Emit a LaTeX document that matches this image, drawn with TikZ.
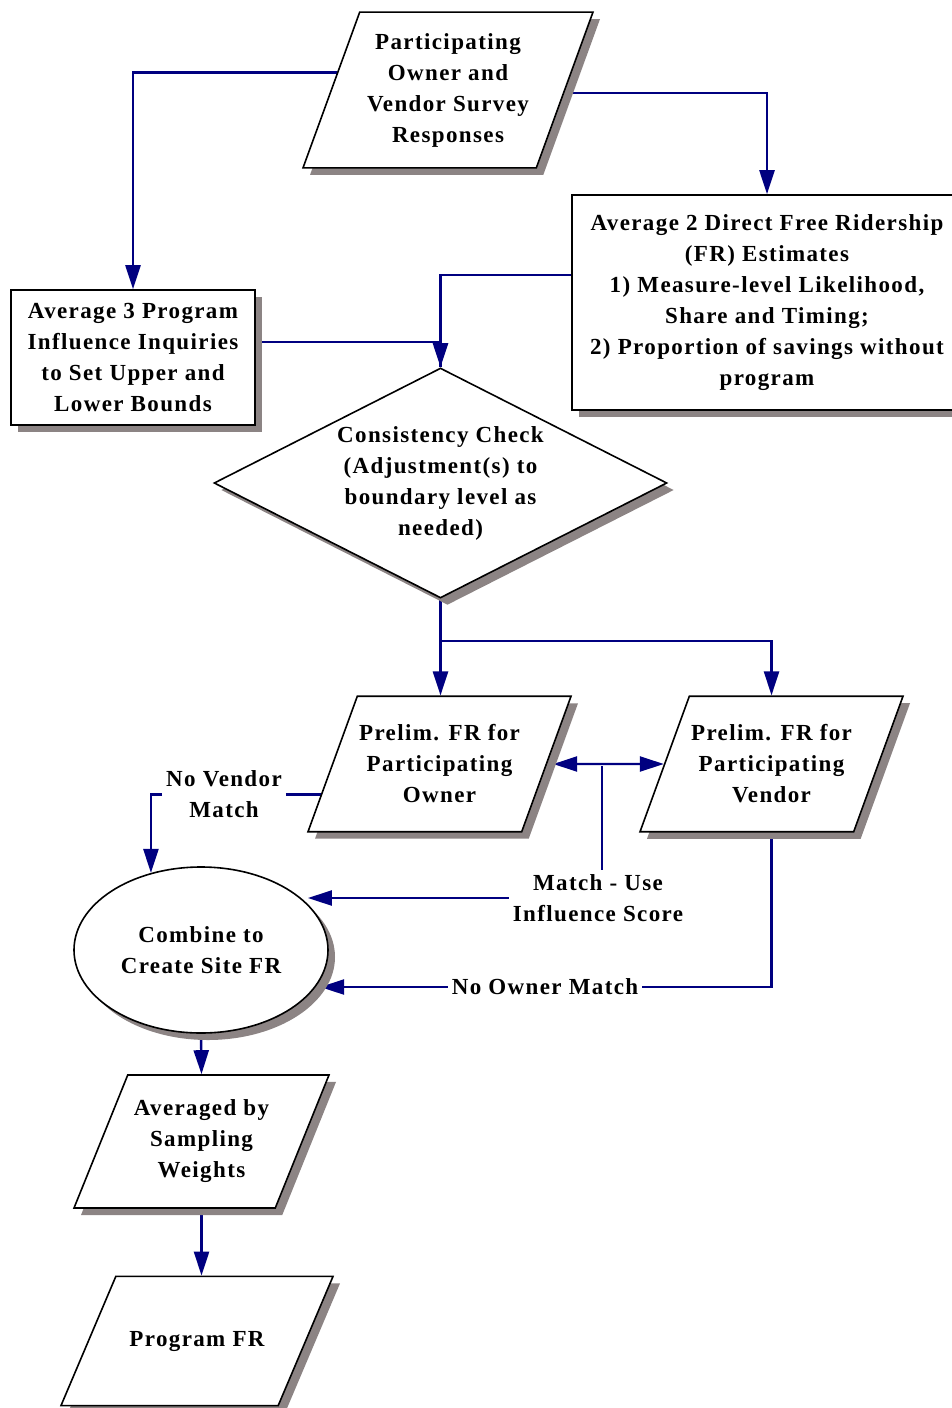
\documentclass[tikz,border=0pt]{standalone}
\usepackage{fontspec}
\setmainfont{Liberation Serif}[LetterSpace=6]
\usetikzlibrary{shapes.geometric,arrows.meta,shadows,calc,backgrounds}
\definecolor{flowline}{RGB}{0,0,128}
\definecolor{shade}{RGB}{140,132,132}
\tikzset{
  box/.style={draw, line width=1.6pt, fill=white, align=center, inner sep=0pt,
    font=\bfseries\fontsize{23}{31}\selectfont,
    drop shadow={shadow xshift=7pt, shadow yshift=-7pt, fill=shade, opacity=1}},
  databox/.style={box, trapezium, trapezium stretches body=true,
    trapezium left angle=70, trapezium right angle=110},
  lbl/.style={align=center, inner sep=4pt, font=\bfseries\fontsize{23}{31}\selectfont},
  flow/.style={draw=flowline, line width=2.4pt}
}
\begin{document}
\begin{tikzpicture}[x=1pt, y=-1pt, >={Triangle[length=24pt,width=15pt]}]
\useasboundingbox (0,0) rectangle (951,1408);
\node[databox, inner ysep=21pt, minimum width=290] (resp) at (448,90) {Participating\\Owner and\\Vendor Survey\\Responses};
\node[box, rectangle, minimum width=244, minimum height=135] (infl) at (133,357.5) {Average 3 Program\\Influence Inquiries\\to Set Upper and\\Lower Bounds};
\node[box, rectangle, minimum width=390, minimum height=215] (direct) at (767,302.5) {Average 2 Direct Free Ridership\\(FR) Estimates\\1) Measure-level Likelihood,\\Share and Timing;\\2) Proportion of savings without\\program};
\node[box, diamond, aspect=1.97, minimum width=453, minimum height=230] (check) at (440.5,483) {Consistency Check\\(Adjustment(s) to\\boundary level as\\needed)};
\node[databox, inner ysep=28.5pt, minimum width=263] (owner) at (439.5,764) {Prelim. FR for\\Participating\\Owner};
\node[databox, inner ysep=28.5pt, minimum width=263] (vendor) at (771.5,764) {Prelim. FR for\\Participating\\Vendor};
\node[box, ellipse, minimum width=254, minimum height=166] (combine) at (201,950) {Combine to\\Create Site FR};
\node[databox, trapezium left angle=68, trapezium right angle=112, inner ysep=25pt, minimum width=255] (weights) at (201.5,1141.5) {Averaged by\\Sampling\\Weights};
\node[databox, trapezium left angle=67, trapezium right angle=113, inner ysep=54.5pt, minimum width=272] (progfr) at (197,1341) {Program FR};
\node[lbl] (novend) at (224,794.5) {No Vendor\\Match};
\node[lbl] (matchuse) at (598,898) {Match - Use\\Influence Score};
\node[lbl] (noown) at (545,987) {No Owner Match};
\coordinate (fork) at (602,766);
\begin{scope}[on background layer]
\draw[flow, ->] ($(resp.top left corner)!0.39!(resp.bottom left corner)$) -| (infl.north);
\draw[flow, ->] ($(resp.top right corner)!0.52!(resp.bottom right corner)$) -| (direct.north);
\draw[flow, ->] ([yshift=27.5pt]direct.west) -| (check.north);
\draw[flow] ([yshift=15.5pt]infl.east) -| (check.north);
\draw[flow, ->] (check.south) -- (check.south |- owner.north);
\draw[flow, ->] ([yshift=-42pt]check.south) -| (vendor.north);
\draw[flow] (novend.east) -- (novend.east -| owner.west);
\draw[flow, ->] (novend.west) -| (combine.123);
\draw[flow, <->] ([xshift=6pt]owner.east) -- (vendor.west);
\draw[flow] (fork) -- (fork |- matchuse.north);
\draw[flow, ->] (matchuse.west) -- ([xshift=6pt]matchuse.west -| combine.27);
\draw[flow] (vendor.south) |- (noown.east);
\draw[flow, ->] (noown.west) -- ([xshift=6pt]noown.west -| combine.-19);
\draw[flow, ->] (combine.south) -- (weights.north);
\draw[flow, ->] (weights.south) -- (weights.south |- progfr.north);
\end{scope}
\end{tikzpicture}
\end{document}
